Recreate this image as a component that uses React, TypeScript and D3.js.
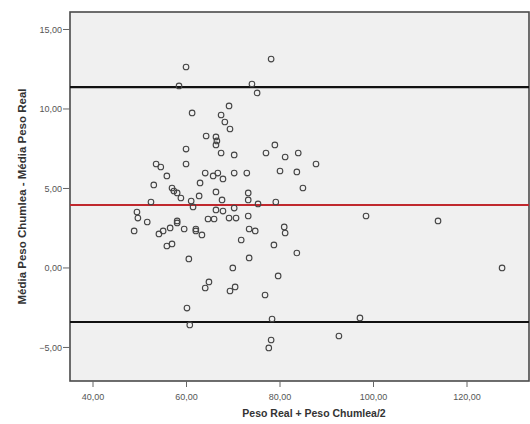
import React, { useEffect, useRef } from "react";
import * as d3 from "d3";

// Bland-Altman data: [mean of weights, difference]
const xValues = [
  59.9, 58.4, 74.0, 75.1, 78.1, 61.2, 69.1, 67.4, 68.2, 69.3,
  64.2, 66.3, 66.5, 66.3, 59.9, 67.4, 70.2, 77.0, 78.9, 81.1,
  83.9, 87.7, 80.0, 83.6, 84.9, 79.1, 53.5, 54.5, 59.9, 55.8,
  64.0, 65.7, 66.7, 67.8, 70.2, 72.9, 53.0, 62.9, 56.9, 57.3,
  58.0, 62.7, 66.3, 73.2, 58.8, 61.0, 61.4, 67.6, 73.2, 75.3,
  52.4, 49.4, 49.6, 48.8, 51.6, 54.1, 55.0, 56.5, 58.0, 58.0,
  59.5, 55.8, 56.9, 62.0, 62.0, 63.3, 64.6, 65.9, 66.3, 67.8,
  70.2, 69.1, 70.6, 73.2, 73.4, 74.7, 71.7, 60.5, 73.4, 69.9,
  64.8, 64.0, 70.4, 69.3, 76.8, 60.1, 60.7, 80.9, 81.1, 78.7,
  83.6, 79.6, 78.3, 78.1, 77.6, 92.6, 97.1, 98.4, 113.8, 127.5,
];
const yValues = [
  12.64, 11.45, 11.57, 11.01, 13.14, 9.75, 10.19, 9.62, 9.18, 8.74,
  8.30, 8.24, 7.99, 7.74, 7.48, 7.23, 7.11, 7.23, 7.74, 6.98,
  7.23, 6.54, 6.10, 6.04, 5.03, 4.15, 6.54, 6.35, 6.54, 5.79,
  5.97, 5.79, 5.97, 5.60, 5.97, 5.97, 5.22, 5.35, 5.03, 4.84,
  4.72, 4.53, 4.78, 4.72, 4.40, 4.21, 3.84, 4.28, 4.28, 4.03,
  4.15, 3.52, 3.14, 2.33, 2.89, 2.14, 2.33, 2.52, 2.96, 2.83,
  2.45, 1.38, 1.51, 2.45, 2.33, 2.08, 3.08, 3.08, 3.65, 3.58,
  3.77, 3.14, 3.14, 3.27, 2.45, 2.33, 1.76, 0.57, 0.63, 0.0,
  -0.88, -1.26, -1.19, -1.45, -1.70, -2.52, -3.58, 2.58, 2.20, 1.45,
  0.94, -0.50, -3.21, -4.53, -5.03, -4.28, -3.14, 3.27, 2.96, 0.0,
];

const meanDiff = 3.96;
const upperLimit = 11.38;
const lowerLimit = -3.4;

const xTicks = [40, 60, 80, 100, 120];
const yTicks = [-5, 0, 5, 10, 15];

const xTitle = "Peso Real + Peso Chumlea/2";
const yTitle = "Média Peso Chumlea - Média Peso Real";

const W = 530;
const H = 424;
const plot = { left: 70, top: 12, right: 529, bottom: 381 };

const fmt = (v: number) => d3.format(".2f")(v).replace(".", ",");

export default function App() {
  const ref = useRef<SVGSVGElement | null>(null);

  useEffect(() => {
    const svg = d3.select(ref.current);
    svg.selectAll("*").remove();

    const x = d3.scaleLinear().domain([35.08, 133.26]).range([plot.left, plot.right]);
    const y = d3.scaleLinear().domain([-7.11, 16.1]).range([plot.bottom, plot.top]);

    svg.append("rect").attr("width", W).attr("height", H).attr("fill", "#ffffff");

    svg
      .append("rect")
      .attr("x", plot.left)
      .attr("y", plot.top)
      .attr("width", plot.right - plot.left)
      .attr("height", plot.bottom - plot.top)
      .attr("fill", "#f0f0f0")
      .attr("stroke", "#4a4a4a")
      .attr("stroke-width", 1.6);

    const font = "'Liberation Sans', Arial, sans-serif";

    // y axis ticks
    const yAx = svg.append("g");
    yTicks.forEach((t) => {
      const yy = y(t);
      yAx.append("line").attr("x1", plot.left - 7).attr("x2", plot.left).attr("y1", yy).attr("y2", yy)
        .attr("stroke", "#666").attr("stroke-width", 1);
      yAx.append("text").attr("x", plot.left - 8).attr("y", yy).attr("dy", "0.35em")
        .attr("text-anchor", "end").attr("font-family", font).attr("font-size", 9)
        .attr("fill", "#555").text(fmt(t));
    });

    // x axis ticks
    const xAx = svg.append("g");
    xTicks.forEach((t) => {
      const xx = x(t);
      xAx.append("line").attr("x1", xx).attr("x2", xx).attr("y1", plot.bottom).attr("y2", plot.bottom + 6)
        .attr("stroke", "#666").attr("stroke-width", 1);
      xAx.append("text").attr("x", xx).attr("y", plot.bottom + 19)
        .attr("text-anchor", "middle").attr("font-family", font).attr("font-size", 9)
        .attr("fill", "#555").text(fmt(t));
    });

    // reference lines
    const lines = [
      { v: upperLimit, c: "#111" },
      { v: lowerLimit, c: "#111" },
      { v: meanDiff, c: "#c0282e" },
    ];
    lines.forEach((l) => {
      svg.append("line").attr("x1", plot.left).attr("x2", plot.right)
        .attr("y1", y(l.v)).attr("y2", y(l.v)).attr("stroke", l.c).attr("stroke-width", 2.2);
    });

    // points
    svg.append("g").selectAll("circle")
      .data(xValues.map((v, i) => [v, yValues[i]]))
      .join("circle")
      .attr("cx", (d) => x(d[0]))
      .attr("cy", (d) => y(d[1]))
      .attr("r", 2.8)
      .attr("fill", "none")
      .attr("stroke", "#444")
      .attr("stroke-width", 1.1);

    // titles
    svg.append("text").attr("x", 314).attr("y", 417).attr("text-anchor", "middle")
      .attr("font-family", font).attr("font-weight", "bold").attr("font-size", 10.5)
      .attr("fill", "#333").text(xTitle);

    svg.append("text").attr("transform", `translate(26,${(plot.top + plot.bottom) / 2}) rotate(-90)`)
      .attr("text-anchor", "middle")
      .attr("font-family", font).attr("font-weight", "bold").attr("font-size", 11.5)
      .attr("fill", "#333").text(yTitle);
  }, []);

  return (
    <svg ref={ref} width={W} height={H}
      style={{ position: "absolute", left: 0, top: 0, display: "block" }} />
  );
}
